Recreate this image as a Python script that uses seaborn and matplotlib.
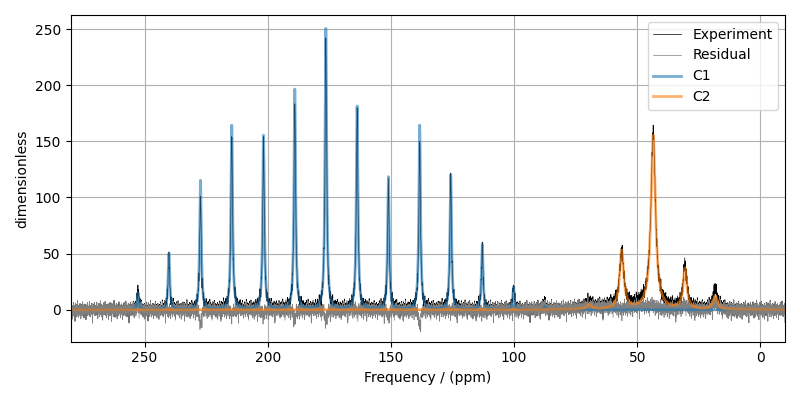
import numpy as np
import matplotlib
matplotlib.use("Agg")
import matplotlib.pyplot as plt
import seaborn as sns

# C1: spinning sideband manifold (ppm, fitted height, experimental height)
c1_pos = [252.6, 240.1, 227.3, 214.6, 201.7, 189.0, 176.4, 163.7, 151.0, 138.3, 125.7, 112.9, 100.2, 87.5]
c1_fit = [15, 50, 115, 164, 155, 196, 250, 181, 118, 164, 120, 58, 20, 3]
c1_exp = [18, 48, 101, 160, 149, 186, 238, 179, 110, 148, 119, 55, 20, 8]
c1_fwhm = 0.8

# C2: broad aliphatic sites
c2_pos = [69.5, 56.3, 43.5, 30.6, 18.3]
c2_fit = [4, 52, 155, 36, 12]
c2_exp = [5, 50, 158, 40, 19]
c2_fwhm = [2.5, 2.0, 2.2, 1.8, 2.0]

# unfitted broad intensity in the experiment
hump_pos = [62.0, 48.0]
hump_h = [2.5, 2.5]
hump_fwhm = [25.0, 6.0]

# baseline noise pattern (estimated)
noise = [1.8, -2.4, 3.1, -0.7, -4.2, 2.6, 0.9, -1.5, 5.3, -3.8, 0.4, 2.2, -6.1, 1.1, -0.3, 3.7,
         -2.9, 4.4, -1.2, -5.0, 2.0, 0.6, -3.3, 6.2, -0.9, -2.1, 1.5, 3.9, -4.7, 0.2, 2.8, -1.8,
         -7.4, 3.3, 1.0, -2.6, 4.8, -0.5, -3.6, 2.4, 0.8, -1.1, 5.7, -4.0, -0.2, 1.9, -2.8, 3.5,
         -5.6, 0.7, 2.9, -1.4, 0.3, -3.1, 4.1, -6.8, 1.6, 2.3, -0.8, -2.2, 3.0, -4.5, 5.0, 0.1,
         -1.7, 2.7, -3.4, 1.3, -8.2, 4.6, -0.6, 2.1, -2.5, 0.5, 3.6, -4.9, 1.4, -1.0, 6.5, -3.0,
         -0.4, 2.5, -5.3, 1.2, 3.2, -2.0, 0.0, -3.9, 4.3, -1.3, 2.0, -6.4, 0.9, 3.8, -2.3, -0.1,
         1.7, -4.4, 5.5, -1.6, 0.6, -2.7, 3.4, -0.8, -5.8, 2.2, 1.1, -3.2, 4.0, -1.9, 0.3, 2.6,
         -7.0, 1.8, -0.5, 3.3, -2.4, 0.7, -4.1, 4.9, -1.1, 2.4, -3.7, 0.2, 1.5, -2.9, 6.0, -4.6,
         0.8, -1.2, 2.9, -5.1, 3.1, -0.3, -2.0, 1.0, 4.5, -3.5, 0.4, -9.5, 2.3, -1.4, 3.7, -0.9,
         -2.6, 1.6, 5.1, -4.3]
noise_scale = 1.25

ppm = np.linspace(285, -15, 3001)


def lorentz(x, pos, height, fwhm):
    hw = np.broadcast_to(np.asarray(fwhm, dtype=float) / 2, np.shape(pos))
    y = np.zeros_like(x)
    for p, h, w in zip(pos, height, hw):
        y += h / (1 + ((x - p) / w) ** 2)
    return y


c1 = lorentz(ppm, c1_pos, c1_fit, c1_fwhm)
c2 = lorentz(ppm, c2_pos, c2_fit, c2_fwhm)
exp = (lorentz(ppm, c1_pos, c1_exp, c1_fwhm) + lorentz(ppm, c2_pos, c2_exp, c2_fwhm)
       + lorentz(ppm, hump_pos, hump_h, hump_fwhm)
       + noise_scale * np.resize(np.array(noise), ppm.size))
resid = exp - c1 - c2

fig, ax = plt.subplots(figsize=(8, 4), dpi=100)
sns.lineplot(x=ppm, y=exp, ax=ax, color='black', linewidth=0.5, label='Experiment', sort=False, estimator=None)
sns.lineplot(x=ppm, y=resid, ax=ax, color='gray', linewidth=0.5, label='Residual', sort=False, estimator=None)
sns.lineplot(x=ppm, y=c1, ax=ax, color='tab:blue', linewidth=2, alpha=0.6, label='C1', sort=False, estimator=None)
sns.lineplot(x=ppm, y=c2, ax=ax, color='tab:orange', linewidth=2, alpha=0.6, label='C2', sort=False, estimator=None)

ax.set_xlim(280, -10)
ax.set_ylim(-28.5, 262.5)
ax.set_xlabel('Frequency / (ppm)')
ax.set_ylabel('dimensionless')
ax.grid(True)
ax.legend(loc='upper right')
plt.tight_layout()
plt.savefig('out.png', dpi=100)
